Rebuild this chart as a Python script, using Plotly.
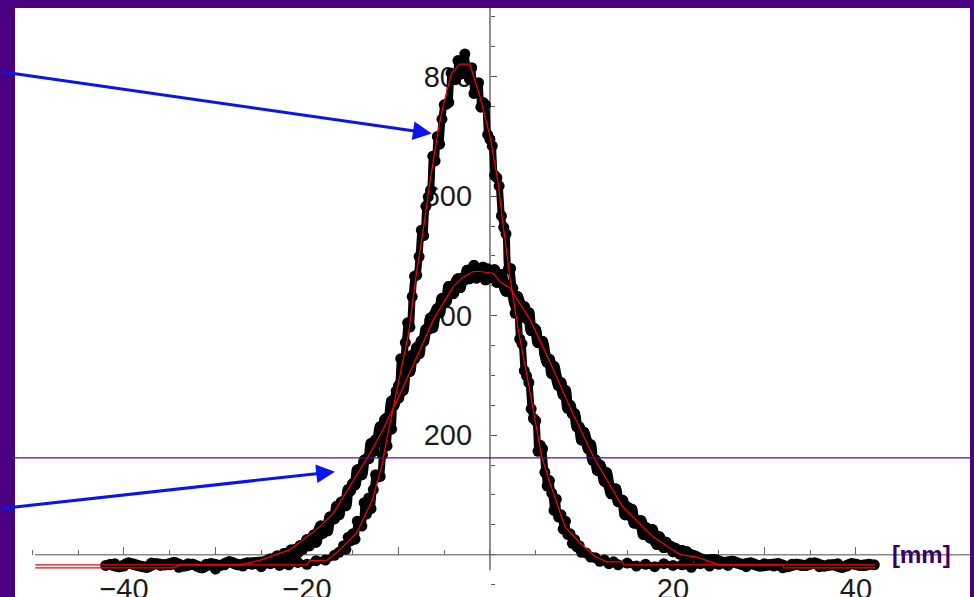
import plotly.graph_objects as go

# ---------------- data ----------------
# narrow beam profile scan: positions [mm] and counts
narrow_x = [
    -42.0, -41.0, -40.0, -39.0, -38.0, -37.0, -36.0, -35.0, -34.0, -33.0,
    -32.0, -31.0, -30.0, -29.0, -28.0, -27.0, -26.0, -25.0, -24.0, -23.0,
    -22.0, -21.0, -20.0, -19.0, -18.0, -17.0, -16.5,
    -16.0, -15.75, -15.5, -15.25, -15.0, -14.75, -14.5, -14.25,
    -14.0, -13.75, -13.5, -13.25, -13.0, -12.75, -12.5, -12.25,
    -12.0, -11.75, -11.5, -11.25, -11.0, -10.75, -10.5, -10.25,
    -10.0, -9.75, -9.5, -9.25, -9.0, -8.75, -8.5, -8.25,
    -8.0, -7.75, -7.5, -7.25, -7.0, -6.75, -6.5, -6.25,
    -6.0, -5.75, -5.5, -5.25, -5.0, -4.75, -4.5, -4.25,
    -4.0, -3.75, -3.5, -3.25, -3.0, -2.75, -2.5, -2.25,
    -2.0, -1.75, -1.5, -1.25, -1.0, -0.75, -0.5, -0.25,
    0.0, 0.25, 0.5, 0.75, 1.0, 1.25, 1.5, 1.75,
    2.0, 2.25, 2.5, 2.75, 3.0, 3.25, 3.5, 3.75,
    4.0, 4.25, 4.5, 4.75, 5.0, 5.25, 5.5, 5.75,
    6.0, 6.25, 6.5, 6.75, 7.0, 7.25, 7.5, 7.75,
    8.0, 8.25, 8.5, 8.75, 9.0, 9.25, 9.5, 9.75,
    10.0,
    10.5, 11.0, 11.5, 12.0, 12.5, 13.0, 13.5, 14.0,
    15.0, 16.0, 17.0, 18.0, 19.0, 20.0, 21.0, 22.0, 23.0, 24.0,
    25.0, 26.0, 27.0, 28.0, 29.0, 30.0, 31.0, 32.0, 33.0, 34.0,
    35.0, 36.0, 37.0, 38.0, 39.0, 40.0, 41.0, 42.0,
]
narrow_y = [
    -18, -15, -19, -16, -20, -14, -18, -17, -21, -15,
    -19, -16, -24, -17, -14, -19, -16, -20, -15, -18,
    -17, -13, -16, -10, -9, -1, 4,
    15, 9, 29, 23, 35, 26, 56, 51,
    48, 87, 68, 95, 77, 109, 134, 130,
    131, 167, 195, 182, 213, 210, 259, 274,
    283, 328, 319, 355, 388, 381, 432, 466,
    468, 499, 543, 534, 583, 599, 610, 667,
    659, 700, 687, 729, 753, 754, 757, 806,
    797, 795, 827, 804, 827, 838, 813, 796,
    815, 772, 789, 790, 749, 757, 753, 703,
    695, 684, 635, 631, 617, 567, 548, 537,
    478, 479, 446, 404, 413, 361, 353, 308,
    299, 288, 244, 228, 224, 173, 183, 177,
    138, 115, 124, 103, 74, 93, 63, 67,
    43, 56, 34, 35, 19, 25, 13, 15,
    4,
    3, -4, -5, -11, -9, -15, -12, -17,
    -14, -19, -16, -20, -15, -18, -17, -21, -15, -19,
    -16, -18, -14, -20, -17, -15, -19, -22, -16, -18,
    -14, -20, -17, -15, -19, -16, -18, -17,
]

# wide beam profile scan
wide_x = [
    -41.5, -40.5, -39.5, -38.5, -37.5, -36.5, -35.5, -34.5, -33.5, -32.5,
    -31.5, -30.5, -29.5, -28.5, -27.5, -26.5, -25.5, -24.5,
    -24.0, -23.75, -23.5, -23.25, -23.0, -22.75, -22.5, -22.25,
    -22.0, -21.75, -21.5, -21.25, -21.0, -20.75, -20.5, -20.25,
    -20.0, -19.75, -19.5, -19.25, -19.0, -18.75, -18.5, -18.25,
    -18.0, -17.75, -17.5, -17.25, -17.0, -16.75, -16.5, -16.25,
    -16.0, -15.75, -15.5, -15.25, -15.0, -14.75, -14.5, -14.25,
    -14.0, -13.75, -13.5, -13.25, -13.0, -12.75, -12.5, -12.25,
    -12.0, -11.75, -11.5, -11.25, -11.0, -10.75, -10.5, -10.25,
    -10.0, -9.75, -9.5, -9.25, -9.0, -8.75, -8.5, -8.25,
    -8.0, -7.75, -7.5, -7.25, -7.0, -6.75, -6.5, -6.25,
    -6.0, -5.75, -5.5, -5.25, -5.0, -4.75, -4.5, -4.25,
    -4.0, -3.75, -3.5, -3.25, -3.0, -2.75, -2.5, -2.25,
    -2.0, -1.75, -1.5, -1.25, -1.0, -0.75, -0.5, -0.25,
    0.0, 0.25, 0.5, 0.75, 1.0, 1.25, 1.5, 1.75,
    2.0, 2.25, 2.5, 2.75, 3.0, 3.25, 3.5, 3.75,
    4.0, 4.25, 4.5, 4.75, 5.0, 5.25, 5.5, 5.75,
    6.0, 6.25, 6.5, 6.75, 7.0, 7.25, 7.5, 7.75,
    8.0, 8.25, 8.5, 8.75, 9.0, 9.25, 9.5, 9.75,
    10.0, 10.25, 10.5, 10.75, 11.0, 11.25, 11.5, 11.75,
    12.0, 12.25, 12.5, 12.75, 13.0, 13.25, 13.5, 13.75,
    14.0, 14.25, 14.5, 14.75, 15.0, 15.25, 15.5, 15.75,
    16.0, 16.25, 16.5, 16.75, 17.0, 17.25, 17.5, 17.75,
    18.0, 18.25, 18.5, 18.75, 19.0, 19.25, 19.5, 19.75,
    20.0, 20.25, 20.5, 20.75, 21.0, 21.25, 21.5, 21.75,
    22.0,
    22.5, 23.5, 24.5, 25.5, 26.5, 27.5, 28.5, 29.5, 30.5, 31.5,
    32.5, 33.5, 34.5, 35.5, 36.5, 37.5, 38.5, 39.5, 40.5, 41.5,
]
wide_y = [
    -16, -20, -14, -18, -21, -15, -17, -13, -19, -16,
    -22, -15, -18, -12, -17, -14, -13, -11,
    -7, -13, -6, -2, -7, -10, 2, 0,
    -3, 8, 3, 9, 3, 15, 9, 16,
    25, 15, 22, 33, 21, 38, 48, 36,
    46, 40, 63, 63, 60, 81, 67, 88,
    86, 82, 109, 107, 119, 117, 142, 134,
    134, 158, 160, 161, 186, 173, 192, 195,
    214, 201, 226, 229, 231, 257, 250, 266,
    262, 288, 275, 302, 306, 307, 334, 328,
    347, 336, 358, 357, 377, 377, 396, 380,
    402, 412, 405, 429, 422, 425, 449, 441,
    437, 455, 462, 447, 463, 460, 476, 462,
    472, 484, 463, 478, 472, 481, 460, 478,
    474, 464, 477, 456, 461, 469, 451, 441,
    451, 449, 435, 419, 432, 421, 407, 415,
    395, 405, 375, 379, 376, 355, 357, 357,
    336, 322, 327, 303, 315, 297, 283, 288,
    268, 275, 245, 250, 236, 236, 214, 214,
    192, 205, 193, 177, 184, 158, 159, 141,
    150, 140, 123, 137, 116, 102, 109, 110,
    89, 88, 91, 67, 80, 66, 76, 53,
    58, 51, 57, 34, 46, 40, 28, 42,
    24, 17, 30, 21, 12, 21, 13, 14,
    5, 11, 6, 1, 7, -1, 5, -5,
    0,
    -3, -9, -8, -13, -11, -16, -14, -19, -17, -15,
    -20, -16, -18, -14, -19, -17, -21, -15, -18, -16,
]

# fitted curves (red polylines)
narrow_fit_x = [-49.7, -20.0, -19.7, -17.8, -16.4, -14.6, -12.9, -11.8, -11.3, -9.8,
                -8.9, -8.0, -7.3, -6.6, -5.65, -5.1, -4.2, -3.3, -2.2, -1.1,
                0.0, 0.9, 1.4, 2.2, 3.1, 4.4, 5.65, 6.55, 8.2, 9.8,
                11.5, 12.75, 14.5, 14.6, 42.1]
narrow_fit_y = [-17, -17, -10, -9, 8, 36, 90, 150, 192, 300,
                370, 476, 543, 620, 711, 753, 806, 821, 821, 767,
                700, 622, 556, 462, 376, 270, 164, 120, 47, 20,
                -3, -12, -12, -17, -17]
wide_fit_x = [-49.7, -34.6, -33.9, -27.3, -25.1, -21.9, -18.6, -17.1, -14.9, -13.1,
              -11.7, -9.8, -8.0, -6.2, -4.0, -2.9, -1.8, -1.1, 0.36, 1.1,
              2.2, 4.4, 6.6, 8.7, 11.3, 14.5, 17.8, 20.8, 22.6, 25.1,
              32.0, 32.1, 42.1]
wide_fit_y = [-22, -22, -17, -17, -9, 8, 47, 70, 125, 170,
              209, 270, 331, 393, 449, 465, 474, 474, 471, 457,
              446, 393, 321, 248, 164, 80, 30, 0, -4, -17,
              -17, -22, -22]

x_tick_vals = [-40, -30, -20, -10, 10, 20, 30, 40]
x_tick_text = ["\u221240", "", "\u221220", "", "", "20", "", "40"]
y_tick_vals = [200, 400, 600, 800]
y_tick_text = ["200", "400", "600", "800"]
threshold_level = 162
unit_label = "[mm]"

# ---------------- figure ----------------
X_RANGE = [-51.91, 52.46]
Y_RANGE = [-70.8, 915.0]
PURPLE = "#4B0082"
TICKFONT = dict(family="Liberation Sans", size=29, color="#1c1c1c")

fig = go.Figure()
# dense scans: a thick band under the individual measurement dots
fig.add_trace(go.Scatter(x=wide_x, y=wide_y, mode="lines",
                         line=dict(color="black", width=11, shape="spline", smoothing=0.8),
                         hoverinfo="skip", showlegend=False))
fig.add_trace(go.Scatter(x=narrow_x, y=narrow_y, mode="lines",
                         line=dict(color="black", width=7, shape="spline", smoothing=0.8),
                         hoverinfo="skip", showlegend=False))
marker = dict(size=11, color="black", line=dict(width=0))
fig.add_trace(go.Scatter(x=narrow_x, y=narrow_y, mode="markers", marker=marker,
                         hoverinfo="skip", showlegend=False))
fig.add_trace(go.Scatter(x=wide_x, y=wide_y, mode="markers", marker=marker,
                         hoverinfo="skip", showlegend=False))
fig.add_trace(go.Scatter(x=narrow_fit_x, y=narrow_fit_y, mode="lines",
                         line=dict(color="#ff0000", width=1.2), hoverinfo="skip", showlegend=False))
fig.add_trace(go.Scatter(x=wide_fit_x, y=wide_fit_y, mode="lines",
                         line=dict(color="#ff0000", width=1.2), hoverinfo="skip", showlegend=False))

fig.update_layout(
    width=974, height=597,
    margin=dict(l=15, r=4, t=8, b=0, pad=0),
    paper_bgcolor=PURPLE, plot_bgcolor="white",
    showlegend=False,
    xaxis=dict(range=X_RANGE, anchor="free", position=0.0718, automargin=False,
               showgrid=False, zeroline=False, showline=False,
               ticks="inside", ticklen=8, tickwidth=1, tickcolor="#666",
               tickmode="array", tickvals=x_tick_vals, ticktext=x_tick_text,
               tickfont=TICKFONT, ticklabelstandoff=14,
               minor=dict(ticks="inside", ticklen=5, tickcolor="#666", dtick=5, tick0=0),
               layer="below traces"),
    yaxis=dict(range=Y_RANGE, anchor="free", position=0.4974, side="left", automargin=False,
               showgrid=False, zeroline=False, showline=False,
               ticks="inside", ticklen=6, tickwidth=1, tickcolor="#555",
               tickmode="array", tickvals=y_tick_vals, ticktext=y_tick_text,
               tickfont=TICKFONT, ticklabelstandoff=18,
               minor=dict(ticks="inside", ticklen=4, tickcolor="#555", dtick=50, tick0=0),
               layer="below traces"),
    shapes=[
        dict(type="line", xref="x", yref="y", x0=-49.7, x1=X_RANGE[1], y0=0, y1=0,
             line=dict(color="#888888", width=1.5), layer="below"),
        dict(type="line", xref="x", yref="y", x0=0, x1=0, y0=-26, y1=Y_RANGE[1],
             line=dict(color="#444444", width=1.2), layer="below"),
        dict(type="line", xref="paper", yref="y", x0=0, x1=1,
             y0=threshold_level, y1=threshold_level,
             line=dict(color="#5A0AA0", width=1.3), layer="above"),
    ],
    annotations=[
        dict(x=47.2, y=0, xref="x", yref="y", text="<b>" + unit_label + "</b>",
             showarrow=False, xanchor="center", yanchor="middle",
             font=dict(family="Liberation Sans", size=24, color="#3C0064")),
        dict(x=-6.37, y=705, xref="x", yref="y", text="", showarrow=True,
             ax=-432, ay=-62, arrowhead=2, arrowsize=1.25, arrowwidth=3,
             arrowcolor="#0A14F0"),
        dict(x=-16.94, y=139, xref="x", yref="y", text="", showarrow=True,
             ax=-335, ay=37, arrowhead=2, arrowsize=1.25, arrowwidth=3,
             arrowcolor="#0A14F0"),
    ],
)

fig.write_html("out.html", config={"displayModeBar": False},
               post_script="document.body.style.margin='0';document.body.style.overflow='hidden';")
